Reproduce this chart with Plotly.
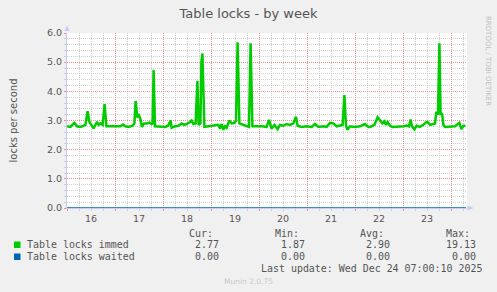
import plotly.graph_objects as go
import pandas as pd

# ---------------- data ----------------
START = "2025-12-16 00:00"
RANGE_HOURS = 200

IMMED_HOURS = [
    0, 1.7, 3.7, 5, 6.7, 9.2, 10.3, 11.2, 12.2, 13.3, 14.2, 15, 15.8, 16.7, 17.8, 18.8, 19.7, 23, 26.7,
    28, 29.2, 30.8, 32.8, 33.7, 34.3, 35.2, 35.8, 36.7, 37.5, 38.5, 40, 41.2, 42.2, 42.8, 43.3, 44,
    47.5, 49.2, 50.5, 51.8, 52.3, 54, 55.7, 57.3, 58.5, 59.8, 61.5, 62.3, 63.2, 64.3, 65.2, 65.8,
    66.7, 67.2, 67.7, 68.7, 70.7, 73.2, 75.7, 76.5, 77.3, 78.2, 79, 79.8, 81.2, 82.3, 83.7, 84.5,
    85.3, 86.2, 88.2, 89.8, 91, 91.8, 92.7, 97.3, 99.8, 101, 102.3, 103.7, 105.3, 106.5, 108.2,
    109.8, 111.5, 113.2, 114.5, 115.3, 117.3, 119.8, 122.3, 124, 125.7, 128.2, 129.8, 131.5, 133.2,
    134.8, 136.5, 137.8, 138.7, 139.5, 140.2, 141.5, 144, 146.5, 149, 150.7, 151.5, 153.7, 155.3,
    156.5, 157.7, 158.7, 159.5, 160.3, 161.5, 162.7, 165.7, 168.2, 169.8, 171, 171.8, 172.5, 173.7,
    174.8, 176.5, 178.2, 179.3, 180.3, 181.5, 183.2, 184, 184.7, 185.5, 186.2, 186.8, 187.5, 188.2,
    189, 194, 196.2, 197.2, 198.2, 199.2,
]
IMMED_VALUES = [
    2.80, 2.78, 2.92, 2.80, 2.78, 2.85, 3.32, 2.95, 2.85, 2.73, 2.85, 2.95, 2.85, 2.90, 2.85, 3.56, 2.80, 2.80, 2.80,
    2.86, 2.80, 2.78, 2.82, 2.90, 3.67, 3.10, 3.22, 3.05, 2.78, 2.90, 2.90, 2.93, 2.88, 2.90, 4.73, 2.80,
    2.80, 2.78, 2.82, 3.00, 2.75, 2.80, 2.82, 2.90, 2.85, 2.88, 2.95, 3.00, 2.88, 2.90, 4.35, 2.85,
    2.90, 5.00, 5.30, 2.78, 2.80, 2.82, 2.85, 2.72, 2.88, 2.68, 2.80, 2.75, 3.00, 2.90, 2.92, 3.00,
    5.68, 2.90, 2.85, 2.82, 2.78, 5.65, 2.80, 2.80, 2.78, 3.02, 2.72, 2.85, 2.70, 2.85, 2.82,
    2.88, 2.85, 2.90, 3.13, 2.82, 2.78, 2.80, 2.78, 2.88, 2.78, 2.80, 2.78, 2.92, 2.90,
    2.80, 2.82, 2.85, 3.87, 2.82, 2.68, 2.80, 2.78, 2.80, 2.88, 2.78, 2.78, 2.85, 3.11,
    3.00, 2.90, 2.97, 2.85, 2.95, 2.82, 2.78, 2.78, 2.80, 2.83, 2.80, 3.03, 2.80, 2.70,
    2.82, 2.78, 2.85, 2.93, 2.95, 2.85, 2.88, 2.90, 3.30, 3.20, 5.65, 3.20, 3.25, 2.85,
    2.78, 2.80, 2.92, 2.70, 2.82, 2.82,
]
WAITED_HOURS = [0, 199.5]
WAITED_VALUES = [0.0, 0.0]

Y_TICKS = [0, 1, 2, 3, 4, 5, 6]

SERIES_NAMES = ["Table locks immed", "Table locks waited"]
STAT_HEADERS = ["Cur:", "Min:", "Avg:", "Max:"]
IMMED_STATS = ["2.77", "1.87", "2.90", "19.13"]
WAITED_STATS = ["0.00", "0.00", "0.00", "0.00"]
LAST_UPDATE = "Last update: Wed Dec 24 07:00:10 2025"
FOOTER = "Munin 2.0.75"
SIDE_TEXT = "RRDTOOL / TOBI OETIKER"
TITLE = "Table locks - by week"
Y_TITLE = "locks per second"

# ---------------- style ----------------
W, H = 497, 292
L, R, T, B = 67, 30, 33, 84
PW, PH = W - L - R, H - T - B
GREEN = "#00cc00"
BLUE = "#0066b3"
MGRID = "#ec8f8f"
GRID = "#cfcfcf"
AXIS = "#c5cdf5"
FONT = "#555555"
SANS = "DejaVu Sans"
MONO = "DejaVu Sans Mono"
DASH = "1px,1px"


def px(x):
    return (x - L) / PW


def py(y):
    return (T + PH - y) / PH


start = pd.Timestamp(START)
to_dt = lambda hs: [start + pd.Timedelta(hours=h) for h in hs]

# minor grid positions (every 6 h / 0.2), skipping the major (red) positions
x_minor = to_dt([h for h in range(0, RANGE_HOURS + 1, 6) if h % 24 != 0])
y_minor = [k * 0.2 for k in range(31) if k % 5 != 0]

fig = go.Figure()
fig.add_trace(go.Scatter(x=to_dt(WAITED_HOURS), y=WAITED_VALUES, mode="lines",
                         line=dict(color=BLUE, width=1.5), showlegend=False, hoverinfo="skip"))
fig.add_trace(go.Scatter(x=to_dt(IMMED_HOURS), y=IMMED_VALUES, mode="lines",
                         line=dict(color=GREEN, width=2.5), showlegend=False))

end = start + pd.Timedelta(hours=RANGE_HOURS)
fig.update_layout(
    width=W, height=H,
    margin=dict(l=L, r=R, t=T, b=B, pad=0),
    paper_bgcolor="#f0f0f0", plot_bgcolor="#ffffff",
    showlegend=False,
    title=dict(text=TITLE, x=0.5, xanchor="center", xref="container",
               y=1 - 13 / H, yanchor="middle", yref="container",
               font=dict(family=SANS, size=13, color=FONT)),
    xaxis=dict(
        type="date", range=[start, end],
        tick0=start, dtick=86400000, tickformat="%d", ticklabelmode="period",
        showgrid=True, gridcolor=MGRID, griddash=DASH, gridwidth=1,
        ticks="outside", ticklen=2, tickcolor=MGRID,
        tickfont=dict(family=SANS, size=9.5, color=FONT),
        minor=dict(tickmode="array", tickvals=x_minor, showgrid=True, gridcolor=GRID,
                   griddash=DASH, ticks="outside", ticklen=2, tickcolor=GRID),
        showline=True, linecolor=AXIS, linewidth=1, zeroline=False,
    ),
    yaxis=dict(
        range=[0, 6], tickvals=Y_TICKS, tickformat=".1f",
        showgrid=True, gridcolor=MGRID, griddash=DASH,
        ticks="outside", ticklen=2, tickcolor=MGRID,
        tickfont=dict(family=SANS, size=9.5, color=FONT),
        minor=dict(tickmode="array", tickvals=y_minor, showgrid=True, gridcolor=GRID,
                   griddash=DASH, ticks="outside", ticklen=2, tickcolor=GRID),
        showline=True, linecolor=AXIS, linewidth=1, zeroline=False,
        title=dict(text=Y_TITLE, font=dict(family=SANS, size=10, color=FONT), standoff=27),
    ),
)

shapes = [
    # axis arrows
    dict(type="path", xref="paper", yref="paper", layer="above",
         path=f"M {px(64.5)} {py(31)} L {px(69.5)} {py(31)} L {px(67)} {py(25.5)} Z",
         fillcolor=AXIS, line=dict(width=0)),
    dict(type="path", xref="paper", yref="paper", layer="above",
         path=f"M {px(467.5)} {py(205.5)} L {px(467.5)} {py(210.5)} L {px(473.5)} {py(208)} Z",
         fillcolor=AXIS, line=dict(width=0)),
]
ann = []
# legend headers
for txt, xr in zip(STAT_HEADERS, [213.5, 299.5, 384.5, 470.5]):
    ann.append(dict(text=txt, x=px(xr), y=py(233.3), xanchor="right", yanchor="middle"))
rows = [(SERIES_NAMES[0], GREEN, IMMED_STATS, 244.5), (SERIES_NAMES[1], BLUE, WAITED_STATS, 256.5)]
for name, col, stats, yy in rows:
    shapes.append(dict(type="rect", xref="paper", yref="paper",
                       x0=px(14), x1=px(20.5), y0=py(yy - 3), y1=py(yy + 3.5),
                       fillcolor=col, line=dict(width=0)))
    ann.append(dict(text=name, x=px(26), y=py(yy), xanchor="left", yanchor="middle"))
    for txt, xr in zip(stats, [219.5, 305.5, 391, 477]):
        ann.append(dict(text=txt, x=px(xr), y=py(yy), xanchor="right", yanchor="middle"))
ann.append(dict(text=LAST_UPDATE, x=px(482.5), y=py(268.7), xanchor="right", yanchor="middle"))
for a in ann:
    a.update(xref="paper", yref="paper", showarrow=False, borderpad=0,
             font=dict(family=MONO, size=9.95, color=FONT))
ann.append(dict(text=FOOTER, x=px(248.5), y=py(281), xref="paper", yref="paper",
                xanchor="center", yanchor="middle", showarrow=False, borderpad=0,
                font=dict(family=SANS, size=7.5, color="#c8c8c8")))
ann.append(dict(text=SIDE_TEXT, x=px(488.5), y=py(60.5), xref="paper", yref="paper",
                xanchor="center", yanchor="middle", showarrow=False, borderpad=0, textangle=90,
                font=dict(family=SANS, size=7, color="#c0c0c0")))
fig.update_layout(shapes=shapes, annotations=ann)

fig.write_html("out.html")
